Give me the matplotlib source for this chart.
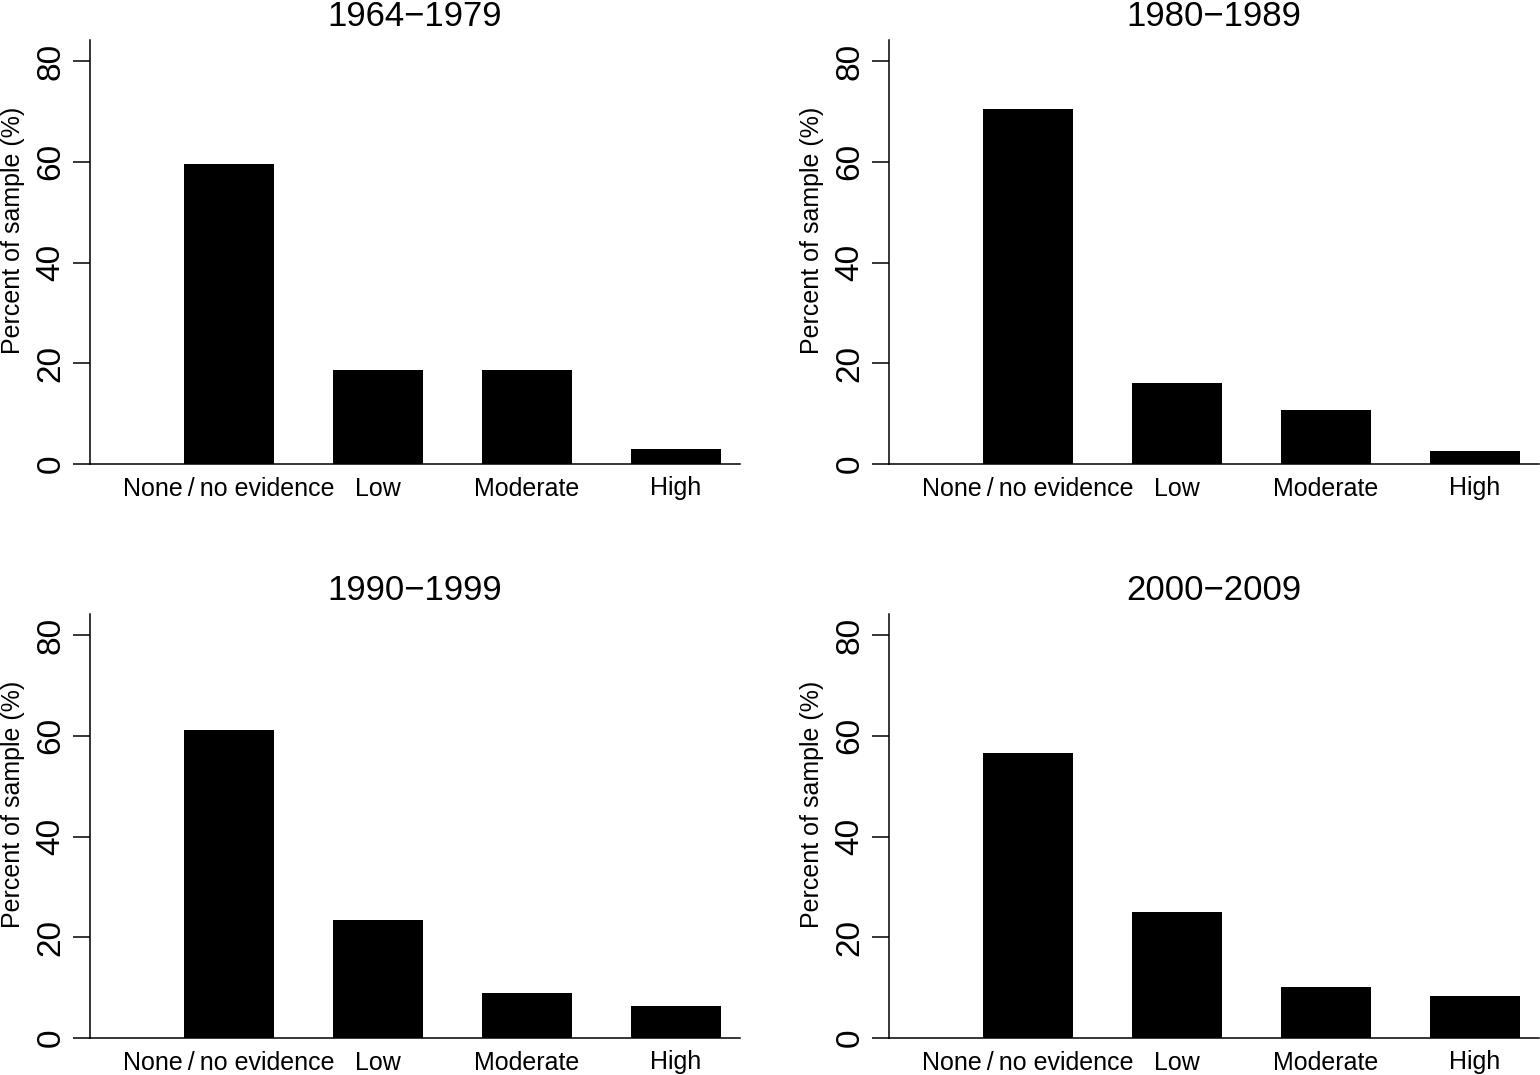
import matplotlib.pyplot as plt
import numpy as np

plt.rcParams['font.family'] = ['Liberation Sans', 'DejaVu Sans']

categories = ['None\u2009/\u2009no evidence', 'Low', 'Moderate', 'High']
periods = ['1964\u22121979', '1980\u22121989', '1990\u22121999', '2000\u22122009']
p1964 = [59.5, 18.7, 18.7, 3.0]
p1980 = [70.4, 16.1, 10.7, 2.6]
p1990 = [61.1, 23.4, 8.9, 6.3]
p2000 = [56.5, 25.0, 10.1, 8.3]
values = [p1964, p1980, p1990, p2000]

W, H = 1540, 1075
fig = plt.figure(figsize=(W / 100, H / 100), dpi=100)

# axes boxes in pixels: left, top, right, bottom
boxes = [(90, 40, 740, 464), (889, 40, 1539, 464),
         (90, 614, 740, 1038), (889, 614, 1539, 1038)]

x = np.arange(1, len(categories) + 1)
for (l, t, r, b), title, vals in zip(boxes, periods, values):
    ax = fig.add_axes([l / W, 1 - b / H, (r - l) / W, (b - t) / H])
    ax.bar(x, vals, width=0.6, color='black')
    ax.set_xlim(0.067, 4.43)
    ax.set_ylim(0, 84.2)
    ax.set_yticks([0, 20, 40, 60, 80])
    ax.set_xticks(x)
    ax.set_xticklabels(categories, fontsize=18)
    ax.tick_params(axis='x', length=0, pad=9)
    ax.tick_params(axis='y', length=12, width=1.1, pad=5, labelsize=24)
    for lab in ax.get_yticklabels():
        lab.set_rotation(90)
        lab.set_va('center')
    ax.spines['top'].set_visible(False)
    ax.spines['right'].set_visible(False)
    for s in ['left', 'bottom']:
        ax.spines[s].set_linewidth(1.1)
    ax.set_ylabel('Percent of sample (%)', fontsize=18)
    ax.yaxis.set_label_coords(-0.1, 0.55)
    ax.set_title(title, fontsize=25, pad=10)

fig.savefig('out.png', dpi=100)
